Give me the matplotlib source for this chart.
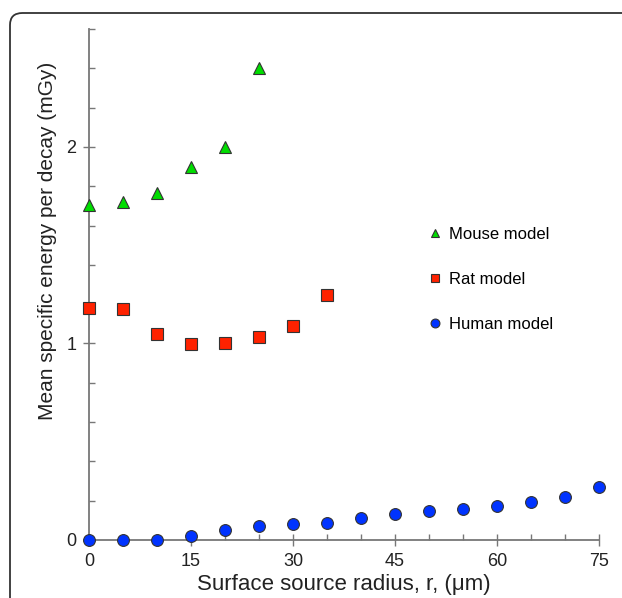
import matplotlib
matplotlib.use("Agg")
import matplotlib.pyplot as plt
from matplotlib.patches import FancyBboxPatch
from matplotlib.ticker import MultipleLocator

plt.rcParams['font.family'] = ['Liberation Sans', 'DejaVu Sans']

mouse_x = [0, 5, 10, 15, 20, 25]
mouse_y = [1.705, 1.72, 1.767, 1.90, 2.00, 2.40]
rat_x = [0, 5, 10, 15, 20, 25, 30, 35]
rat_y = [1.182, 1.174, 1.048, 0.997, 1.0, 1.032, 1.089, 1.247]
human_x = [0, 5, 10, 15, 20, 25, 30, 35, 40, 45, 50, 55, 60, 65, 70, 75]
human_y = [0.0, 0.0, 0.0, 0.02, 0.05, 0.069, 0.08, 0.089, 0.11, 0.13,
           0.146, 0.16, 0.175, 0.195, 0.22, 0.27]
labels = ["Mouse model", "Rat model", "Human model"]

fig = plt.figure(figsize=(6.22, 5.98), dpi=100)
frame = FancyBboxPatch((10 / 622, -0.2), 1.2, 1 - 13 / 598 + 0.2,
                       boxstyle="round,pad=0,rounding_size=0.02",
                       transform=fig.transFigure, fill=False,
                       edgecolor="#333333", linewidth=1.3, clip_on=False)
fig.patches.append(frame)

ax = fig.add_axes([89 / 622, 1 - 540 / 598, 510 / 622, 511 / 598])
kw = dict(linestyle="none", markeredgecolor="#333333", markeredgewidth=0.8,
          clip_on=False, zorder=5)
ax.plot(mouse_x, mouse_y, marker="^", color="#00dd00", markersize=8.5, label=labels[0], **kw)
ax.plot(rat_x, rat_y, marker="s", color="#ff2200", markersize=8, label=labels[1], **kw)
ax.plot(human_x, human_y, marker="o", color="#0033ff", markersize=8.5, label=labels[2], **kw)

ax.set_xlim(0, 75)
ax.set_ylim(0, 2.6)
for s in ["top", "right"]:
    ax.spines[s].set_visible(False)
for s in ["left", "bottom"]:
    ax.spines[s].set_color("#777777")
    ax.spines[s].set_linewidth(1.3)

ax.xaxis.set_major_locator(MultipleLocator(15))
ax.xaxis.set_minor_locator(MultipleLocator(5))
ax.yaxis.set_major_locator(MultipleLocator(1))
ax.yaxis.set_minor_locator(MultipleLocator(0.2))
ax.tick_params(which="major", direction="inout", length=8, width=1, color="#777777",
               labelsize=13, labelcolor="#222222")
ax.tick_params(axis="x", which="major", pad=5)
ax.tick_params(axis="y", which="major", pad=5)
ax.tick_params(which="minor", direction="in", length=4, width=1, color="#777777")

ax.set_xlabel("Surface source radius, r, (\u03bcm)", fontsize=16, color="#222222", labelpad=3)
ax.set_ylabel("Mean specific energy per decay (mGy)", fontsize=15, color="#222222")
ax.yaxis.set_label_coords(-0.063, 0.585)

ax.legend(loc="upper left", bbox_to_anchor=(0.665, 0.612), frameon=False, fontsize=12,
          labelspacing=1.8, handlelength=0.8, handletextpad=0.45, markerscale=0.75,
          borderaxespad=0, borderpad=0)

fig.savefig("out.png", dpi=100)
